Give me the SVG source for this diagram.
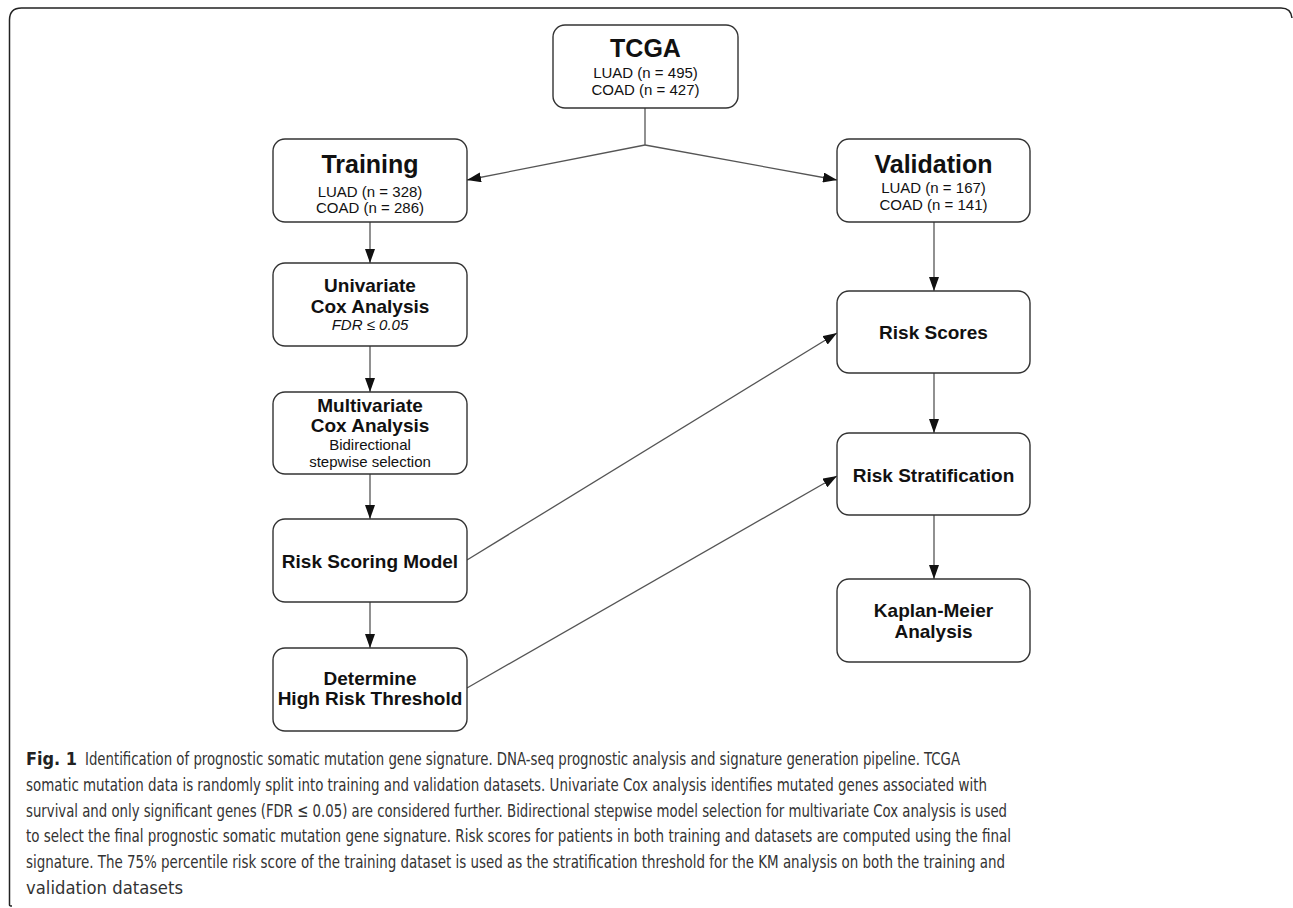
<svg xmlns="http://www.w3.org/2000/svg" width="1293" height="908" viewBox="0 0 1293 908">
  <defs>
    <marker id="arrow" viewBox="0 0 14 10" refX="14" refY="5" markerWidth="14" markerHeight="10" markerUnits="userSpaceOnUse" orient="auto">
      <path d="M0,0 L14,5 L0,10 Z" fill="#111"/>
    </marker>
    <style>
      .box { fill: #fff; stroke: #333; stroke-width: 1.4; }
      .edge { fill: none; stroke: #555; stroke-width: 1.3; }
      .title { font-family: "Liberation Sans", Arial, sans-serif; font-weight: bold; font-size: 25px; fill: #111; text-anchor: middle; }
      .head { font-family: "Liberation Sans", Arial, sans-serif; font-weight: bold; font-size: 19px; fill: #111; text-anchor: middle; }
      .sub { font-family: "Liberation Sans", Arial, sans-serif; font-size: 15px; fill: #111; text-anchor: middle; }
      .it { font-style: italic; }
      .cap { font-family: "Liberation Sans Narrow", "DejaVu Sans Condensed", "Open Sans", sans-serif; font-size: 18.5px; fill: #333; }
      .capb { font-weight: bold; fill: #222; }
    </style>
  </defs>

  <rect width="1293" height="908" fill="#fff"/>

  <!-- figure frame -->
  <path d="M9.5,905 Q9.5,906 12,906 M9.5,905 V20 Q9.5,8 21.5,8 H1281 Q1291,8 1292,18" fill="none" stroke="#222" stroke-width="1.5"/>

  <!-- connectors -->
  <g id="connectors">
    <polyline class="edge" points="645,108 645,145"/>
    <line class="edge" x1="645" y1="145" x2="467" y2="180" marker-end="url(#arrow)"/>
    <line class="edge" x1="645" y1="145" x2="837" y2="180" marker-end="url(#arrow)"/>
    <line class="edge" x1="370" y1="222" x2="370" y2="263" marker-end="url(#arrow)"/>
    <line class="edge" x1="370" y1="346" x2="370" y2="392" marker-end="url(#arrow)"/>
    <line class="edge" x1="370" y1="474" x2="370" y2="519" marker-end="url(#arrow)"/>
    <line class="edge" x1="370" y1="602" x2="370" y2="648" marker-end="url(#arrow)"/>
    <line class="edge" x1="934" y1="222" x2="934" y2="291" marker-end="url(#arrow)"/>
    <line class="edge" x1="934" y1="373" x2="934" y2="433" marker-end="url(#arrow)"/>
    <line class="edge" x1="934" y1="515" x2="934" y2="579" marker-end="url(#arrow)"/>
    <line class="edge" x1="467" y1="560" x2="837" y2="333" marker-end="url(#arrow)"/>
    <line class="edge" x1="467" y1="688" x2="837" y2="476" marker-end="url(#arrow)"/>
  </g>

  <g id="tcga">
    <rect class="box" x="553" y="25" width="185" height="83" rx="12"/>
    <text class="title" x="645.5" y="57">TCGA</text>
    <text class="sub" x="645.5" y="78">LUAD (n = 495)</text>
    <text class="sub" x="645.5" y="95">COAD (n = 427)</text>
  </g>

  <g id="training">
    <rect class="box" x="273" y="139" width="194" height="83" rx="12"/>
    <text class="title" x="370" y="173">Training</text>
    <text class="sub" x="370" y="197">LUAD (n = 328)</text>
    <text class="sub" x="370" y="213">COAD (n = 286)</text>
  </g>

  <g id="validation">
    <rect class="box" x="837" y="139" width="193" height="83" rx="12"/>
    <text class="title" x="933.5" y="173">Validation</text>
    <text class="sub" x="933.5" y="193">LUAD (n = 167)</text>
    <text class="sub" x="933.5" y="210">COAD (n = 141)</text>
  </g>

  <g id="univariate">
    <rect class="box" x="273" y="263" width="194" height="83" rx="12"/>
    <text class="head" x="370" y="292">Univariate</text>
    <text class="head" x="370" y="313">Cox Analysis</text>
    <text class="sub it" x="370" y="330">FDR ≤ 0.05</text>
  </g>

  <g id="multivariate">
    <rect class="box" x="273" y="392" width="194" height="82" rx="12"/>
    <text class="head" x="370" y="412">Multivariate</text>
    <text class="head" x="370" y="432">Cox Analysis</text>
    <text class="sub" x="370" y="450">Bidirectional</text>
    <text class="sub" x="370" y="467">stepwise selection</text>
  </g>

  <g id="risk-model">
    <rect class="box" x="273" y="519" width="194" height="83" rx="12"/>
    <text class="head" x="370" y="568">Risk Scoring Model</text>
  </g>

  <g id="threshold">
    <rect class="box" x="273" y="648" width="194" height="83" rx="12"/>
    <text class="head" x="370" y="685">Determine</text>
    <text class="head" x="370" y="705">High Risk Threshold</text>
  </g>

  <g id="risk-scores">
    <rect class="box" x="837" y="291" width="193" height="82" rx="12"/>
    <text class="head" x="933.5" y="339">Risk Scores</text>
  </g>

  <g id="stratification">
    <rect class="box" x="837" y="433" width="193" height="82" rx="12"/>
    <text class="head" x="933.5" y="482">Risk Stratification</text>
  </g>

  <g id="kaplan-meier">
    <rect class="box" x="837" y="579" width="193" height="83" rx="12"/>
    <text class="head" x="933.5" y="617">Kaplan-Meier</text>
    <text class="head" x="933.5" y="638">Analysis</text>
  </g>

  <!-- caption -->
  <g id="caption" class="cap">
    <text class="capb" x="26" y="765" textLength="51" lengthAdjust="spacingAndGlyphs">Fig. 1</text>
    <text x="85" y="765" textLength="875" lengthAdjust="spacingAndGlyphs">Identification of prognostic somatic mutation gene signature. DNA-seq prognostic analysis and signature generation pipeline. TCGA</text>
    <text x="26" y="791" textLength="961" lengthAdjust="spacingAndGlyphs">somatic mutation data is randomly split into training and validation datasets. Univariate Cox analysis identifies mutated genes associated with</text>
    <text x="26" y="817" textLength="981" lengthAdjust="spacingAndGlyphs">survival and only significant genes (FDR ≤ 0.05) are considered further. Bidirectional stepwise model selection for multivariate Cox analysis is used</text>
    <text x="26" y="842" textLength="985" lengthAdjust="spacingAndGlyphs">to select the final prognostic somatic mutation gene signature. Risk scores for patients in both training and datasets are computed using the final</text>
    <text x="26" y="868" textLength="979" lengthAdjust="spacingAndGlyphs">signature. The 75% percentile risk score of the training dataset is used as the stratification threshold for the KM analysis on both the training and</text>
    <text x="26" y="894" textLength="157" lengthAdjust="spacingAndGlyphs">validation datasets</text>
  </g>
</svg>
